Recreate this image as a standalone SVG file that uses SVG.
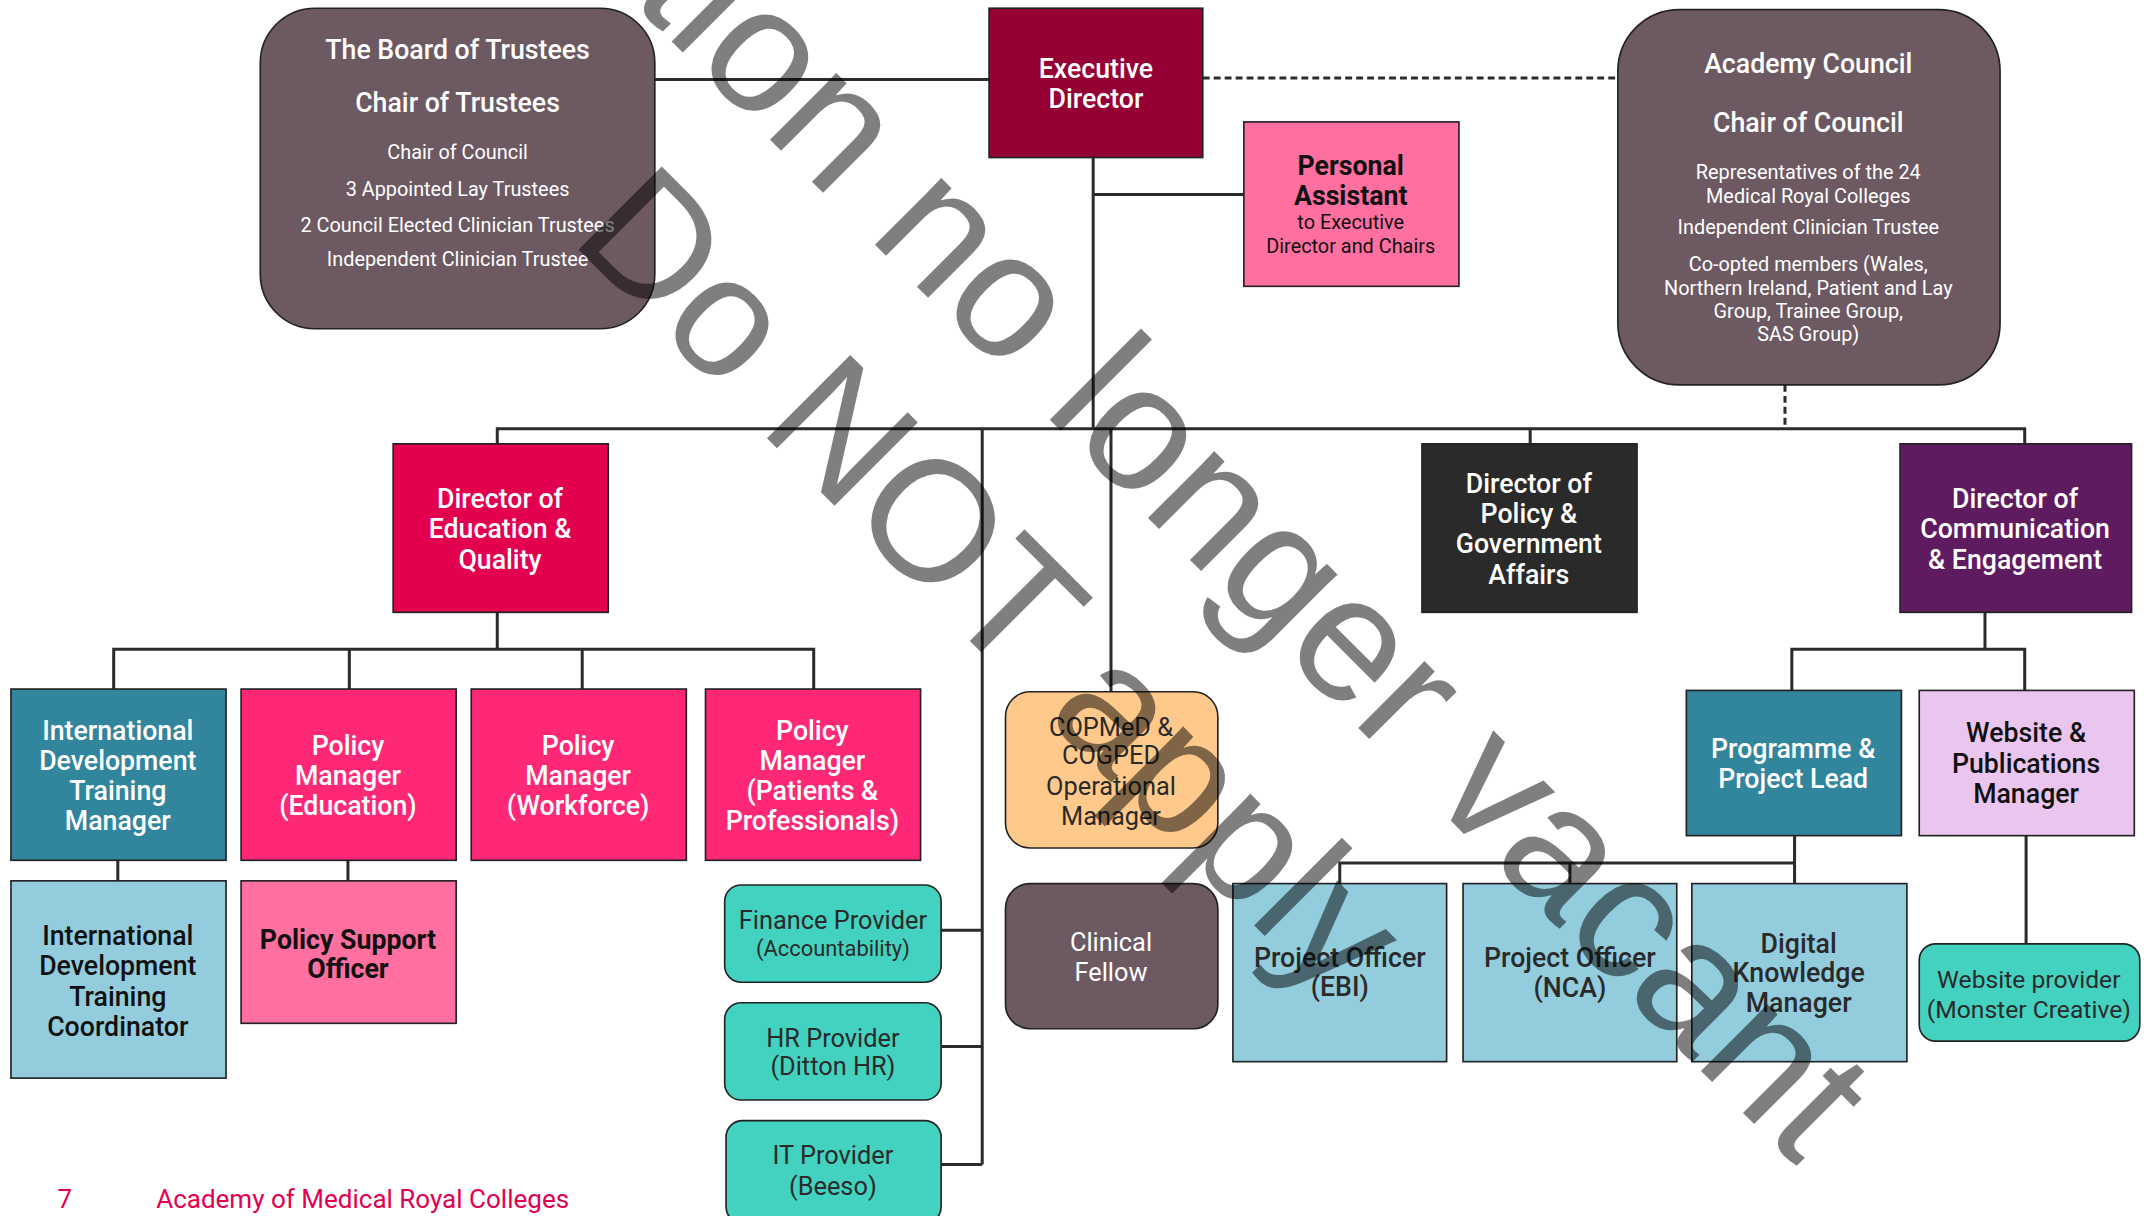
<svg xmlns="http://www.w3.org/2000/svg" width="2148" height="1216" viewBox="0 0 2148 1216">
<style>
text{font-family:Roboto,"Liberation Sans",sans-serif;text-anchor:middle}
.t{font-size:19.5px;font-weight:500}
.s{font-size:14.5px;font-weight:400}
.w{fill:#fff}
.k{fill:#111}
.d{fill:#2a2a2a}
.b{font-weight:700}
.box{stroke:#222;stroke-width:1.2}
.ln{stroke:#2b2b2b;stroke-width:2.2;fill:none}
.dash{stroke:#2b2b2b;stroke-width:2.2;fill:none;stroke-dasharray:5 3}
.mauve{fill:#6d5962}.teal{fill:#31859c}.hot{fill:#ff2876}.lb{fill:#93cddd}.tq{fill:#43d2bf}.pk{fill:#ff6fa0}
.wm{font-family:"Liberation Sans",Arial,sans-serif;font-size:125px;fill:#000;fill-opacity:0.5;text-anchor:start}
</style>
<rect width="2148" height="1216" fill="#fff"/>
<g transform="scale(1.3699)">
<g id="connectors">
<path class="ln" d="M478,58H722"/>
<path class="dash" d="M878,57H1181"/>
<path class="ln" d="M798,115V313M798,142H908"/>
<path class="ln" d="M363,324V313H1478V324M1117,313V324"/>
<path class="dash" d="M1303,281V313"/>
<path class="ln" d="M717,313V850M687,679H717M687,764H717M687,850H717"/>
<path class="ln" d="M811,313V505"/>
<path class="ln" d="M363,447V474M83,503V474H594V503M255,474V503M425,474V503"/>
<path class="ln" d="M86,628V643M254,628V643"/>
<path class="ln" d="M1449,447V474M1308,504V474H1478V504"/>
<path class="ln" d="M1310,610V645M978,645V630H1310M1146,630V645"/>
<path class="ln" d="M1479,610V689"/>
</g>
<g id="board"><rect class="box mauve" x="190" y="6" width="288" height="234" rx="40"/>
<text class="t w" x="334" y="43">The Board of Trustees</text>
<text class="t w" x="334" y="82">Chair of Trustees</text>
<text class="s w" x="334" y="116">Chair of Council</text>
<text class="s w" x="334" y="143">3 Appointed Lay Trustees</text>
<text class="s w" x="334" y="169">2 Council Elected Clinician Trustees</text>
<text class="s w" x="334" y="194">Independent Clinician Trustee</text></g>
<g id="exec"><rect class="box" fill="#950035" x="722" y="6" width="156" height="109"/>
<text class="t w" x="800" y="57">Executive</text><text class="t w" x="800" y="79">Director</text></g>
<g id="pa"><rect class="box pk" x="908" y="89" width="157" height="120"/>
<text class="t k b" x="986" y="128">Personal</text><text class="t k b" x="986" y="150">Assistant</text>
<text class="s k" x="986" y="167">to Executive</text><text class="s k" x="986" y="185">Director and Chairs</text></g>
<g id="council"><rect class="box mauve" x="1181" y="7" width="279" height="274" rx="45"/>
<text class="t w" x="1320" y="53">Academy Council</text>
<text class="t w" x="1320" y="96">Chair of Council</text>
<text class="s w" x="1320" y="131">Representatives of the 24</text>
<text class="s w" x="1320" y="148">Medical Royal Colleges</text>
<text class="s w" x="1320" y="171">Independent Clinician Trustee</text>
<text class="s w" x="1320" y="198">Co-opted members (Wales,</text>
<text class="s w" x="1320" y="215">Northern Ireland, Patient and Lay</text>
<text class="s w" x="1320" y="232">Group, Trainee Group,</text>
<text class="s w" x="1320" y="249">SAS Group)</text></g>
<g id="dir-edu"><rect class="box" fill="#e3004f" x="287" y="324" width="157" height="123"/>
<text class="t w" x="365" y="371">Director of</text><text class="t w" x="365" y="393">Education &amp;</text><text class="t w" x="365" y="415">Quality</text></g>
<g id="dir-policy"><rect class="box" fill="#2a2a2a" x="1038" y="324" width="157" height="123"/>
<text class="t w" x="1116" y="360">Director of</text><text class="t w" x="1116" y="382">Policy &amp;</text><text class="t w" x="1116" y="404">Government</text><text class="t w" x="1116" y="426">Affairs</text></g>
<g id="dir-comm"><rect class="box" fill="#5f1b5f" x="1387" y="324" width="169" height="123"/>
<text class="t w" x="1471" y="371">Director of</text><text class="t w" x="1471" y="393">Communication</text><text class="t w" x="1471" y="415">&amp; Engagement</text></g>
<g id="intl-mgr"><rect class="box teal" x="8" y="503" width="157" height="125"/>
<text class="t w" x="86" y="540">International</text><text class="t w" x="86" y="562">Development</text><text class="t w" x="86" y="584">Training</text><text class="t w" x="86" y="606">Manager</text></g>
<g id="pm-edu"><rect class="box hot" x="176" y="503" width="157" height="125"/>
<text class="t w" x="254" y="551">Policy</text><text class="t w" x="254" y="573">Manager</text><text class="t w" x="254" y="595">(Education)</text></g>
<g id="pm-work"><rect class="box hot" x="344" y="503" width="157" height="125"/>
<text class="t w" x="422" y="551">Policy</text><text class="t w" x="422" y="573">Manager</text><text class="t w" x="422" y="595">(Workforce)</text></g>
<g id="pm-pat"><rect class="box hot" x="515" y="503" width="157" height="125"/>
<text class="t w" x="593" y="540">Policy</text><text class="t w" x="593" y="562">Manager</text><text class="t w" x="593" y="584">(Patients &amp;</text><text class="t w" x="593" y="606">Professionals)</text></g>
<g id="intl-coord"><rect class="box lb" x="8" y="643" width="157" height="144"/>
<text class="t k" x="86" y="690">International</text><text class="t k" x="86" y="712">Development</text><text class="t k" x="86" y="734">Training</text><text class="t k" x="86" y="756">Coordinator</text></g>
<g id="pso"><rect class="box pk" x="176" y="643" width="157" height="104"/>
<text class="t k b" x="254" y="693">Policy Support</text><text class="t k b" x="254" y="714">Officer</text></g>
<g id="finance"><rect class="box tq" x="529" y="646" width="158" height="71" rx="12"/>
<text class="d" x="608" y="678" font-size="18.5">Finance Provider</text><text class="d" x="608" y="698" font-size="16">(Accountability)</text></g>
<g id="hr"><rect class="box tq" x="529" y="732" width="158" height="71" rx="12"/>
<text class="d" x="608" y="764" font-size="18.5">HR Provider</text><text class="d" x="608" y="785" font-size="18.5">(Ditton HR)</text></g>
<g id="it"><rect class="box tq" x="530" y="818" width="157" height="75" rx="12"/>
<text class="d" x="608" y="850" font-size="18.5">IT Provider</text><text class="d" x="608" y="872" font-size="18.5">(Beeso)</text></g>
<g id="copmed"><rect class="box" fill="#ffc98c" x="734" y="505" width="155" height="114" rx="18"/>
<text class="d" font-size="18.5" x="811" y="537">COPMeD &amp;</text><text class="d" font-size="18.5" x="811" y="558">COGPED</text><text class="d" font-size="18.5" x="811" y="580">Operational</text><text class="d" font-size="18.5" x="811" y="602">Manager</text></g>
<g id="fellow"><rect class="box mauve" x="734" y="645" width="155" height="106" rx="18"/>
<text class="w" font-size="18.5" x="811" y="694">Clinical</text><text class="w" font-size="18.5" x="811" y="716">Fellow</text></g>
<g id="prog"><rect class="box teal" x="1231" y="504" width="157" height="106"/>
<text class="t w" x="1309" y="553">Programme &amp;</text><text class="t w" x="1309" y="575">Project Lead</text></g>
<g id="webpub"><rect class="box" fill="#eac5ee" x="1401" y="504" width="157" height="106"/>
<text class="t k" x="1479" y="542">Website &amp;</text><text class="t k" x="1479" y="564">Publications</text><text class="t k" x="1479" y="586">Manager</text></g>
<g id="po-ebi"><rect class="box lb" x="900" y="645" width="156" height="130"/>
<text class="t d" x="978" y="706">Project Officer</text><text class="t d" x="978" y="727">(EBI)</text></g>
<g id="po-nca"><rect class="box lb" x="1068" y="645" width="156" height="130"/>
<text class="t d" x="1146" y="706">Project Officer</text><text class="t d" x="1146" y="728">(NCA)</text></g>
<g id="dkm"><rect class="box lb" x="1235" y="645" width="157" height="130"/>
<text class="t d" x="1313" y="696">Digital</text><text class="t d" x="1313" y="717">Knowledge</text><text class="t d" x="1313" y="739">Manager</text></g>
<g id="webprov"><rect class="box tq" x="1401" y="689" width="161" height="71" rx="12"/>
<text class="d" font-size="18" x="1481" y="721">Website provider</text><text class="d" font-size="18" x="1481" y="743">(Monster Creative)</text></g>
<g id="footer">
<text x="42" y="882" font-size="19" fill="#e4004f" style="text-anchor:start">7</text>
<text x="114" y="882" font-size="19" fill="#e4004f" style="text-anchor:start">Academy of Medical Royal Colleges</text></g>
<g id="watermark">
<text class="wm" transform="translate(1312,852) rotate(45)" style="text-anchor:end;font-size:130px">Position no longer vacant</text>
<text class="wm" transform="translate(415,175) rotate(45)">Do NOT apply</text></g>
</g>
</svg>
